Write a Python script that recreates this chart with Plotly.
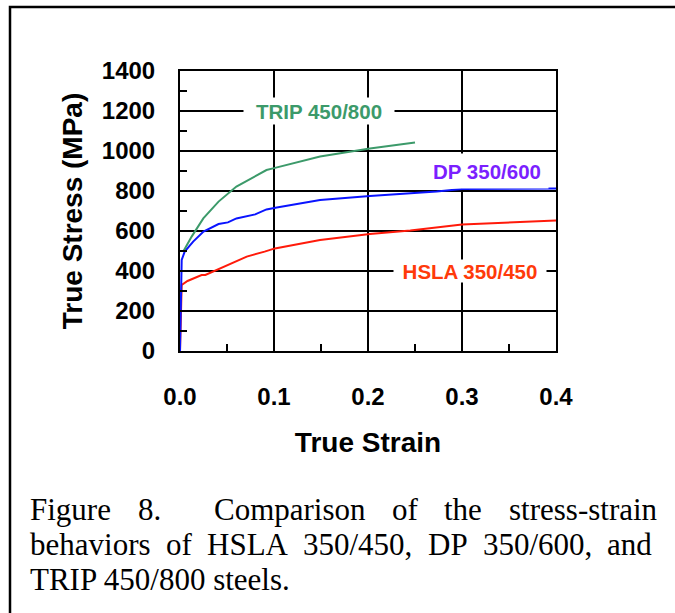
import plotly.graph_objects as go

# ---- data (true strain, true stress MPa) ----
hsla_strain = [0.0, 0.0008, 0.0018, 0.008, 0.014, 0.023, 0.027, 0.050, 0.071, 0.090, 0.101, 0.149, 0.202, 0.245, 0.300, 0.400]
hsla_stress = [0, 200, 330, 350, 363, 380, 380, 430, 472, 497, 513, 555, 585, 602, 633, 652]

dp_strain = [0.0, 0.0008, 0.0018, 0.005, 0.014, 0.025, 0.041, 0.051, 0.060, 0.080, 0.092, 0.103, 0.149, 0.202, 0.273, 0.300, 0.400]
dp_stress = [0, 300, 455, 497, 547, 597, 635, 643, 663, 683, 708, 717, 755, 775, 797, 810, 813]

trip_strain = [0.0035, 0.0124, 0.0248, 0.041, 0.060, 0.092, 0.099, 0.149, 0.202, 0.250]
trip_stress = [497, 572, 663, 747, 822, 905, 913, 972, 1013, 1042]

x_ticks = [0.0, 0.1, 0.2, 0.3, 0.4]
x_tick_labels = ["0.0", "0.1", "0.2", "0.3", "0.4"]
y_ticks = [0, 200, 400, 600, 800, 1000, 1200, 1400]
y_tick_labels = ["0", "200", "400", "600", "800", "1000", "1200", "1400"]

series_labels = ["HSLA 350/450", "DP 350/600", "TRIP 450/800"]
label_positions = [(0.308, 400), (0.327, 900), (0.148, 1200)]

caption_lines = [
    ["Figure", "8.", "Comparison", "of", "the", "stress-strain"],
    ["behaviors", "of", "HSLA", "350/450,", "DP", "350/600,", "and"],
    ["TRIP 450/800 steels."],
]

# ---- layout geometry (pixels) ----
W, H = 675, 613
PL, PR, PT, PB = 180, 556, 71, 351
CAP_FONT = 31
CAP_LEFT = 30
CAP_RIGHT = [657, 652, None]      # justified right edges (None = ragged)
CAP_GAP_WEIGHTS = [[1, 2, 1, 1, 1], [1, 1, 1, 1, 1, 1], []]
CAP_Y = [509, 544, 579]

# Times / Liberation Serif advance widths (per 1000 em) for justification
TW = {" ": 250, "F": 556, "i": 278, "g": 500, "u": 500, "r": 333, "e": 444, "8": 500, ".": 250,
      "C": 667, "o": 500, "m": 778, "p": 500, "a": 444, "s": 389, "n": 500, "f": 333, "t": 278,
      "h": 500, "-": 333, "b": 500, "v": 500, "H": 722, "S": 556, "L": 611, "A": 722, "3": 500,
      "5": 500, "0": 500, "/": 278, "4": 500, ",": 250, "D": 722, "P": 556, "6": 500, "d": 500,
      "T": 611, "R": 667, "I": 333, "l": 278}


def tw(s):
    return sum(TW.get(c, 500) for c in s) / 1000 * CAP_FONT


def px(x):
    return (x - PL) / (PR - PL)


def py(y):
    return (PB - y) / (PB - PT)


fig = go.Figure()
fig.add_trace(go.Scatter(x=hsla_strain, y=hsla_stress, mode="lines",
                         line=dict(color="#ff1a0a", width=2), name=series_labels[0]))
fig.add_trace(go.Scatter(x=dp_strain, y=dp_stress, mode="lines",
                         line=dict(color="#0a14ff", width=2), name=series_labels[1]))
fig.add_trace(go.Scatter(x=trip_strain, y=trip_stress, mode="lines",
                         line=dict(color="#3c9a6a", width=2), name=series_labels[2]))

bold = dict(family="Liberation Sans, Arial, sans-serif", color="black", weight="bold")

fig.update_xaxes(
    range=[0, 0.4], tickvals=x_ticks, ticktext=x_tick_labels,
    showgrid=True, gridcolor="black", gridwidth=2,
    showline=True, linecolor="black", linewidth=2, mirror=True,
    ticks="inside", ticklen=0, tickwidth=2, tickcolor="black",
    minor=dict(dtick=0.05, ticks="inside", ticklen=7, tickwidth=2, tickcolor="black", showgrid=False),
    tickfont=dict(size=24, **bold), ticklabelstandoff=23,
    title=dict(text="True Strain", font=dict(size=28, **bold), standoff=24),
    zeroline=False,
)
fig.update_yaxes(
    range=[0, 1400], tickvals=y_ticks, ticktext=y_tick_labels,
    showgrid=True, gridcolor="black", gridwidth=2,
    showline=True, linecolor="black", linewidth=2, mirror=True,
    ticks="inside", ticklen=0, tickwidth=2, tickcolor="black",
    minor=dict(dtick=100, ticks="inside", ticklen=7, tickwidth=2, tickcolor="black", showgrid=False),
    tickfont=dict(size=24, **bold), ticklabelstandoff=18,
    title=dict(text="True Stress (MPa)", font=dict(size=28, **bold), standoff=11),
    zeroline=False,
)

label_colors = ["#ff3a0a", "#7b1fff", "#3c9a6a"]
label_boxes = [(152, 22), (122, 34), (150, 26)]
for text, (lx, ly), col, (bw, bh) in zip(series_labels, label_positions, label_colors, label_boxes):
    fig.add_annotation(x=lx, y=ly, xref="x", yref="y", text=text, showarrow=False,
                       font=dict(size=20.5, family="Liberation Sans, Arial, sans-serif", color=col, weight="bold"),
                       bgcolor="white", width=bw, height=bh, borderpad=0)

# justified caption: words placed along each line
for words, right, weights, cy in zip(caption_lines, CAP_RIGHT, CAP_GAP_WEIGHTS, CAP_Y):
    if right is None:
        xs = [CAP_LEFT]
    else:
        free = (right - CAP_LEFT) - sum(tw(w) for w in words)
        unit = free / sum(weights)
        xs, cur = [], CAP_LEFT
        for i, w in enumerate(words):
            xs.append(cur)
            if i < len(weights):
                cur += tw(w) + unit * weights[i]
    for w, x in zip(words, xs):
        fig.add_annotation(x=px(x - 1), y=py(cy), xref="paper", yref="paper", text=w,
                           showarrow=False, xanchor="left", yanchor="middle", borderpad=0,
                           font=dict(size=CAP_FONT, family="Liberation Serif, Times New Roman, serif", color="black"))

fig.add_shape(type="rect", xref="paper", yref="paper",
              x0=px(10), x1=px(W + 20), y0=py(H + 20), y1=py(7),
              line=dict(color="black", width=2.5), layer="above")

fig.update_layout(
    width=W, height=H, showlegend=False,
    margin=dict(l=PL, r=W - PR, t=PT, b=H - PB),
    paper_bgcolor="white", plot_bgcolor="white",
)

fig.write_html("out.html")
